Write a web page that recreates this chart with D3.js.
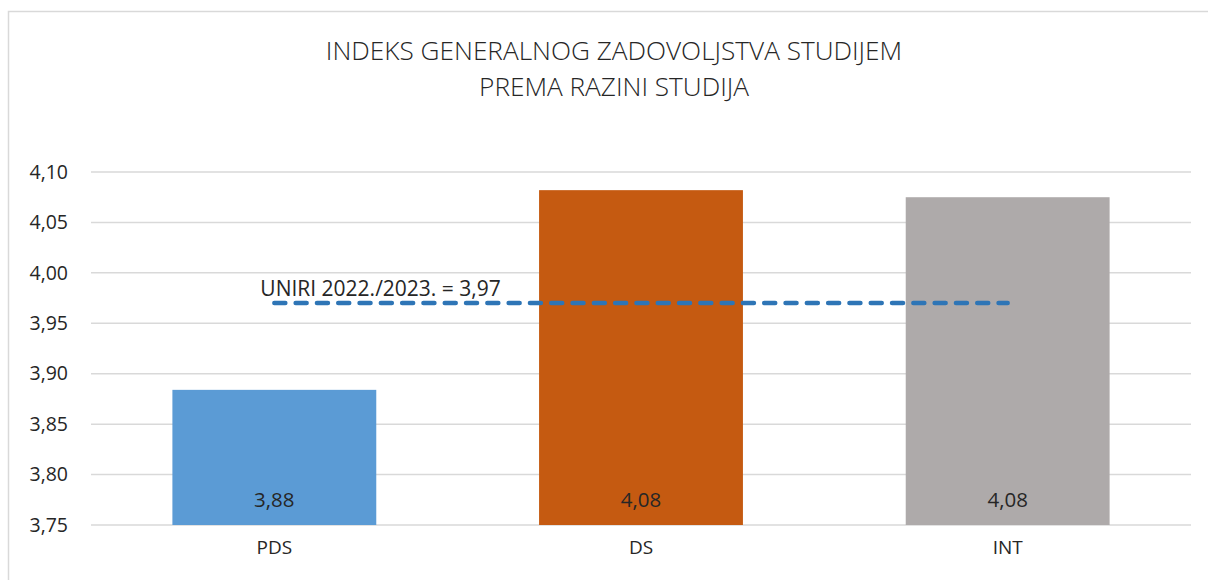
<!DOCTYPE html>
<html>
<head>
<meta charset="utf-8">
<script src="https://cdn.jsdelivr.net/npm/d3@7"></script>
<style>
    body { margin: 0; background: #fff; }
    svg text { font-family: "Open Sans", sans-serif; fill: #262626; }
</style>
</head>
<body>
<div class="chart"></div>
<script>
const categories = ["PDS", "DS", "INT"];
const values = [3.884, 4.082, 4.075];
const valueLabels = ["3,88", "4,08", "4,08"];
const barColors = ["#5b9bd5", "#c55a11", "#aeaaaa"];
const yTicks = [3.75, 3.80, 3.85, 3.90, 3.95, 4.00, 4.05, 4.10];
const avgValue = 3.97;
const avgLabel = "UNIRI 2022./2023. = 3,97";
const titleLines = ["INDEKS GENERALNOG ZADOVOLJSTVA STUDIJEM", "PREMA RAZINI STUDIJA"];

document.addEventListener("DOMContentLoaded", function () {
    const w = 1208,
        h = 580,
        left = 91,
        right = 1191,
        top = 172,
        bottom = 525;

    const svg = d3.select(".chart")
        .append("svg")
        .attr("width", w)
        .attr("height", h);

    // chart area border
    svg.append("rect")
        .attr("x", 8.5)
        .attr("y", 11.5)
        .attr("width", w + 20)
        .attr("height", h + 20)
        .attr("fill", "none")
        .attr("stroke", "#d9d9d9")
        .attr("stroke-width", 1.5);

    const xScale = d3.scaleBand()
        .domain(categories)
        .range([left, right])
        .paddingInner(0.444)
        .paddingOuter(0.222);

    const yScale = d3.scaleLinear()
        .domain([3.75, 4.10])
        .range([bottom, top]);

    // title
    svg.append("text")
        .attr("text-anchor", "middle")
        .attr("font-size", 26.2)
        .attr("font-weight", 350)
        .selectAll("tspan")
        .data(titleLines)
        .enter()
        .append("tspan")
        .attr("x", 614)
        .attr("y", (d, i) => 60 + i * 36)
        .text(d => d);

    // gridlines
    svg.append("g")
        .selectAll("line")
        .data(yTicks)
        .enter()
        .append("line")
        .attr("x1", left)
        .attr("x2", right)
        .attr("y1", d => yScale(d))
        .attr("y2", d => yScale(d))
        .attr("stroke", "#d9d9d9")
        .attr("stroke-width", 1.5);

    const yAxis = d3.axisLeft(yScale)
        .tickValues(yTicks)
        .tickSize(0)
        .tickPadding(23)
        .tickFormat(d => d3.format(".2f")(d).replace(".", ","));

    svg.append("g")
        .attr("id", "y-axis")
        .attr("transform", "translate(" + left + ",0)")
        .call(yAxis)
        .call(g => g.select(".domain").remove())
        .call(g => g.selectAll("text")
            .attr("font-size", 19.5)
            .attr("font-family", "Open Sans, sans-serif")
            .attr("fill", "#262626"));

    // bars
    svg.selectAll("rect.bar")
        .data(values)
        .enter()
        .append("rect")
        .attr("class", "bar")
        .attr("x", (d, i) => xScale(categories[i]))
        .attr("y", d => yScale(d))
        .attr("width", xScale.bandwidth())
        .attr("height", d => bottom - yScale(d))
        .attr("fill", (d, i) => barColors[i]);

    // value labels
    svg.selectAll("text.val")
        .data(valueLabels)
        .enter()
        .append("text")
        .attr("class", "val")
        .attr("text-anchor", "middle")
        .attr("font-size", 20.5)
        .attr("x", (d, i) => xScale(categories[i]) + xScale.bandwidth() / 2)
        .attr("y", 507)
        .text(d => d);

    const xAxis = d3.axisBottom(xScale).tickSize(0).tickPadding(16);

    svg.append("g")
        .attr("id", "x-axis")
        .attr("transform", "translate(0," + bottom + ")")
        .call(xAxis)
        .call(g => g.select(".domain").remove())
        .call(g => g.selectAll("text")
            .attr("font-size", 19)
            .attr("font-family", "Open Sans, sans-serif")
            .attr("fill", "#262626"));

    // average line
    const x1 = xScale(categories[0]) + xScale.bandwidth() / 2,
        x2 = xScale(categories[2]) + xScale.bandwidth() / 2;

    svg.append("line")
        .attr("x1", x1)
        .attr("x2", x2)
        .attr("y1", yScale(avgValue))
        .attr("y2", yScale(avgValue))
        .attr("stroke", "#2e75b6")
        .attr("stroke-width", 4.5)
        .attr("stroke-linecap", "round")
        .attr("stroke-dasharray", "11,10.3");

    svg.append("text")
        .attr("x", x1 - 14)
        .attr("y", yScale(avgValue) - 7)
        .attr("font-size", 21)
        .text(avgLabel);
});
</script>
</body>
</html>
